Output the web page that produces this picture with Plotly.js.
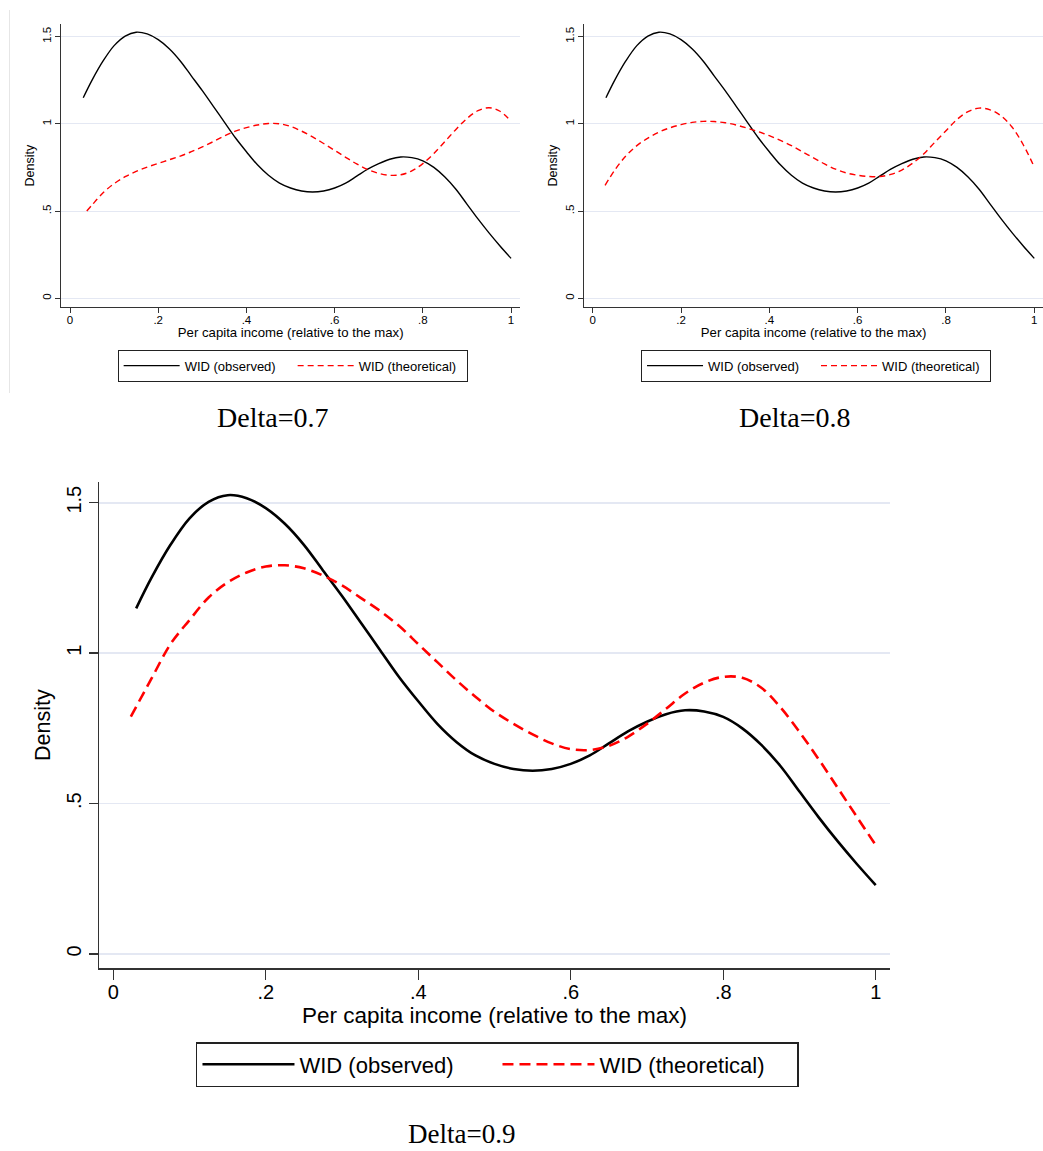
<!DOCTYPE html>
<html>
<head>
<meta charset="utf-8">
<script src="https://cdn.plot.ly/plotly-3.0.1.min.js"></script>
<style>html,body{margin:0;padding:0;background:#fff;}#chart{width:1043px;height:1151px;}</style>
</head>
<body>
<div id="chart"></div>
<script>
// ---- data ----
const obsX = [0.03, 0.05, 0.075, 0.10, 0.125, 0.15, 0.175, 0.20, 0.225, 0.25, 0.275, 0.30, 0.325, 0.35, 0.375, 0.40, 0.425, 0.45, 0.475, 0.50, 0.525, 0.55, 0.575, 0.60, 0.625, 0.65, 0.675, 0.70, 0.725, 0.75, 0.775, 0.80, 0.825, 0.85, 0.875, 0.90, 0.925, 0.95, 0.975, 1.0];
const obsY = [1.149, 1.25, 1.36, 1.448, 1.503, 1.525, 1.515, 1.482, 1.43, 1.36, 1.275, 1.19, 1.10, 1.01, 0.92, 0.84, 0.765, 0.705, 0.66, 0.632, 0.615, 0.609, 0.615, 0.632, 0.66, 0.70, 0.74, 0.772, 0.797, 0.810, 0.806, 0.788, 0.75, 0.695, 0.625, 0.54, 0.455, 0.375, 0.30, 0.229];

const th07X = [0.038, 0.05, 0.075, 0.10, 0.125, 0.15, 0.175, 0.20, 0.225, 0.25, 0.275, 0.30, 0.325, 0.35, 0.375, 0.40, 0.425, 0.45, 0.475, 0.50, 0.525, 0.55, 0.575, 0.60, 0.625, 0.65, 0.675, 0.70, 0.725, 0.75, 0.775, 0.80, 0.825, 0.85, 0.875, 0.90, 0.925, 0.95, 0.975, 1.0];
const th07Y = [0.50, 0.535, 0.605, 0.657, 0.697, 0.727, 0.752, 0.773, 0.794, 0.815, 0.84, 0.868, 0.898, 0.93, 0.958, 0.978, 0.993, 1.002, 1.0, 0.985, 0.958, 0.925, 0.887, 0.848, 0.808, 0.77, 0.738, 0.716, 0.705, 0.708, 0.73, 0.772, 0.83, 0.898, 0.968, 1.03, 1.075, 1.092, 1.072, 1.015];

const th08X = [0.028, 0.05, 0.075, 0.10, 0.125, 0.15, 0.175, 0.20, 0.225, 0.25, 0.275, 0.30, 0.325, 0.35, 0.375, 0.40, 0.425, 0.45, 0.475, 0.50, 0.525, 0.55, 0.575, 0.60, 0.625, 0.65, 0.675, 0.70, 0.725, 0.75, 0.775, 0.80, 0.825, 0.85, 0.875, 0.90, 0.925, 0.95, 0.975, 1.0];
const th08Y = [0.647, 0.735, 0.815, 0.875, 0.918, 0.952, 0.977, 0.995, 1.008, 1.014, 1.013, 1.006, 0.993, 0.975, 0.955, 0.932, 0.905, 0.875, 0.84, 0.805, 0.77, 0.74, 0.718, 0.705, 0.698, 0.698, 0.71, 0.735, 0.775, 0.828, 0.895, 0.96, 1.025, 1.07, 1.09, 1.08, 1.045, 0.98, 0.88, 0.752];

const th09X = [0.023, 0.05, 0.075, 0.10, 0.125, 0.15, 0.175, 0.20, 0.225, 0.25, 0.275, 0.30, 0.325, 0.35, 0.375, 0.40, 0.425, 0.45, 0.475, 0.50, 0.525, 0.55, 0.575, 0.60, 0.625, 0.65, 0.675, 0.70, 0.725, 0.75, 0.775, 0.80, 0.825, 0.85, 0.875, 0.90, 0.925, 0.95, 0.975, 1.0];
const th09Y = [0.789, 0.915, 1.03, 1.11, 1.185, 1.235, 1.268, 1.288, 1.292, 1.282, 1.258, 1.225, 1.183, 1.14, 1.09, 1.03, 0.97, 0.91, 0.855, 0.805, 0.765, 0.73, 0.70, 0.681, 0.678, 0.692, 0.722, 0.765, 0.815, 0.866, 0.902, 0.921, 0.918, 0.885, 0.82, 0.738, 0.648, 0.553, 0.457, 0.362];

const xTickVals = [0, 0.2, 0.4, 0.6, 0.8, 1];
const xTickText = ['0', '.2', '.4', '.6', '.8', '1'];
const yTickVals = [0, 0.5, 1, 1.5];
const yTickText = ['0', '.5', '1', '1.5'];
const seriesNames = ['WID (observed)', 'WID (theoretical)'];
const captions = ['Delta=0.7', 'Delta=0.8', 'Delta=0.9'];
const xTitle = 'Per capita income (relative to the max)';
const yTitle = 'Density';

// ---- styling ----
const FONT = 'Liberation Sans, Arial, sans-serif';
const GRID = '#E4E8F3';
const AXIS = '#333333';

function pair(xs, ys, theoX, theoY, idx, small) {
  const suffix = idx === 1 ? '' : String(idx);
  const lw = small ? 1.4 : 2.6;
  return [
    {x: xs, y: ys, type: 'scatter', mode: 'lines', name: seriesNames[0],
     xaxis: 'x' + suffix, yaxis: 'y' + suffix, legend: 'legend' + suffix,
     line: {color: '#000000', width: lw, shape: 'spline', smoothing: 1}},
    {x: theoX, y: theoY, type: 'scatter', mode: 'lines', name: seriesNames[1],
     xaxis: 'x' + suffix, yaxis: 'y' + suffix, legend: 'legend' + suffix,
     line: {color: '#FF0000', width: lw, shape: 'spline', smoothing: 1,
            dash: small ? '6px,4px' : '11px,6px'}}
  ];
}

const data = [].concat(
  pair(obsX, obsY, th07X, th07Y, 1, true),
  pair(obsX, obsY, th08X, th08Y, 2, true),
  pair(obsX, obsY, th09X, th09Y, 3, false)
);

function xAxis(domain, range, anchor, small) {
  return {
    domain: domain, range: range, anchor: anchor, autorange: false,
    tickmode: 'array', tickvals: xTickVals, ticktext: xTickText,
    ticks: 'outside', ticklen: small ? 5 : 10, tickwidth: small ? 1 : 1.3, tickcolor: AXIS,
    ticklabelstandoff: small ? -3 : -5,
    showline: true, linecolor: AXIS, linewidth: small ? 1 : 1.3,
    showgrid: false, zeroline: false,
    tickfont: {family: FONT, size: small ? 11.5 : 20, color: '#000'},
    title: {text: xTitle, font: {family: FONT, size: small ? 13.2 : 22.5, color: '#000'}, standoff: 2},
    fixedrange: true
  };
}
function yAxis(domain, range, anchor, small) {
  return {
    domain: domain, range: range, anchor: anchor, autorange: false,
    tickmode: 'array', tickvals: yTickVals, ticktext: yTickText, tickangle: -90,
    ticks: 'outside', ticklen: small ? 5 : 9, tickwidth: small ? 1 : 1.3, tickcolor: AXIS,
    showline: true, linecolor: AXIS, linewidth: small ? 1 : 1.3,
    showgrid: true, gridcolor: GRID, gridwidth: small ? 1 : 1.8, zeroline: false,
    tickfont: {family: FONT, size: small ? 11.5 : 20, color: '#000'},
    title: {text: yTitle, font: {family: FONT, size: small ? 12.5 : 21.5, color: '#000'}, standoff: small ? 3 : 6},
    fixedrange: true
  };
}

function legendCfg(x, y, small) {
  return {
    orientation: 'h', x: x, y: y, xanchor: 'left', yanchor: 'top',
    bgcolor: '#fff', bordercolor: '#222', borderwidth: small ? 1 : 1.5,
    font: {family: FONT, size: small ? 13 : 22, color: '#000'},
    itemwidth: small ? 56 : 92, entrywidth: small ? 103 : 193, entrywidthmode: 'pixels',
    itemclick: false, itemdoubleclick: false, tracegroupgap: 0
  };
}

const serif = 'Liberation Serif, Times New Roman, serif';
const layout = {
  width: 1043, height: 1151,
  margin: {l: 0, r: 0, t: 0, b: 0, pad: 0},
  paper_bgcolor: '#fff', plot_bgcolor: '#fff',
  showlegend: true,
  xaxis: xAxis([0.0588, 0.4986], [-0.0197, 1.0204], 'y', true),
  yaxis: yAxis([0.73353, 0.97880], [-0.0481, 1.5696], 'x', true),
  xaxis2: xAxis([0.56021, 1.0], [-0.0190, 1.0197], 'y2', true),
  yaxis2: yAxis([0.73353, 0.97880], [-0.0481, 1.5696], 'x2', true),
  xaxis3: xAxis([0.09492, 0.85331], [-0.01876, 1.01876], 'y3', false),
  yaxis3: yAxis([0.15873, 0.58123], [-0.0475, 1.5688], 'x3', false),
  legend: legendCfg(0.1128, 0.6962, true),
  legend2: legendCfg(0.6146, 0.6962, true),
  legend3: legendCfg(0.1879, 0.0947, false),
  annotations: [
    {text: captions[0], xref: 'paper', yref: 'paper', x: 0.2608, y: 0.6377, xanchor: 'center', yanchor: 'middle', showarrow: false, font: {family: serif, size: 28, color: '#000'}},
    {text: captions[1], xref: 'paper', yref: 'paper', x: 0.7622, y: 0.6377, xanchor: 'center', yanchor: 'middle', showarrow: false, font: {family: serif, size: 28, color: '#000'}},
    {text: captions[2], xref: 'paper', yref: 'paper', x: 0.442, y: 0.0, xanchor: 'center', yanchor: 'bottom', showarrow: false, font: {family: serif, size: 27, color: '#000'}}
  ],
  shapes: [
    {type: 'line', xref: 'paper', yref: 'paper', x0: 9.5/1043, x1: 9.5/1043, y0: 1 - 10/1151, y1: 1 - 393/1151, line: {color: '#E6E6E6', width: 1}}
  ]
};

Plotly.newPlot('chart', data, layout, {staticPlot: true, displayModeBar: false});
</script>
</body>
</html>
